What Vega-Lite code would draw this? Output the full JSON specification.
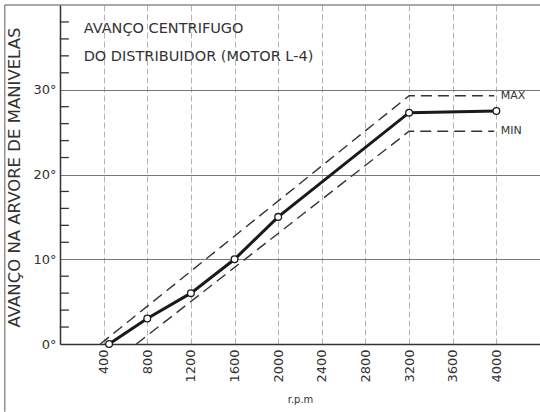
{
  "$schema": "https://vega.github.io/schema/vega-lite/v6.json",
  "width": 480,
  "height": 339,
  "autosize": "none",
  "padding": {"left": 60, "top": 5, "right": 0, "bottom": 68},
  "background": "white",
  "config": {
    "view": {"stroke": null},
    "font": "DejaVu Sans",
    "axis": {"labelFont": "DejaVu Sans", "titleFont": "DejaVu Sans", "labelColor": "#333", "titleColor": "#333", "titleFontWeight": "normal"}
  },
  "datasets": {
    "curve": [
      {"rpm": 450, "deg": 0},
      {"rpm": 800, "deg": 3},
      {"rpm": 1200, "deg": 6},
      {"rpm": 1600, "deg": 10},
      {"rpm": 2000, "deg": 15},
      {"rpm": 3200, "deg": 27.3},
      {"rpm": 4000, "deg": 27.5}
    ],
    "limits": [
      {"series": "MAX", "rpm": 370, "deg": 0},
      {"series": "MAX", "rpm": 3200, "deg": 29.3},
      {"series": "MAX", "rpm": 3980, "deg": 29.3},
      {"series": "MIN", "rpm": 700, "deg": 0},
      {"series": "MIN", "rpm": 3200, "deg": 25.1},
      {"series": "MIN", "rpm": 3980, "deg": 25.1}
    ],
    "ticklist": [
      {"rpm": 40, "deg": 2}, {"rpm": 40, "deg": 4}, {"rpm": 40, "deg": 6}, {"rpm": 40, "deg": 8},
      {"rpm": 40, "deg": 12}, {"rpm": 40, "deg": 14}, {"rpm": 40, "deg": 16}, {"rpm": 40, "deg": 18},
      {"rpm": 40, "deg": 22}, {"rpm": 40, "deg": 24}, {"rpm": 40, "deg": 26}, {"rpm": 40, "deg": 28},
      {"rpm": 40, "deg": 32}, {"rpm": 40, "deg": 34}, {"rpm": 40, "deg": 36}, {"rpm": 40, "deg": 38}
    ],
    "labels": [
      {"rpm": 4040, "deg": 29.3, "label": "MAX"},
      {"rpm": 4040, "deg": 25.1, "label": "MIN"}
    ],
    "titles": [
      {"rpm": 217, "deg": 36.7, "label": "AVANÇO CENTRIFUGO"},
      {"rpm": 217, "deg": 33.4, "label": "DO DISTRIBUIDOR (MOTOR L-4)"}
    ]
  },
  "layer": [
    {
      "data": {"name": "curve"},
      "mark": {"type": "line", "color": "#1a1a1a", "strokeWidth": 3},
      "encoding": {
        "x": {
          "field": "rpm", "type": "quantitative",
          "scale": {"domain": [0, 4400], "nice": false, "zero": false},
          "axis": {
            "values": [400, 800, 1200, 1600, 2000, 2400, 2800, 3200, 3600, 4000],
            "format": "d",
            "labelAngle": -90, "labelFontSize": 13, "labelPadding": 5,
            "ticks": false, "domainColor": "#333", "domainWidth": 1.5,
            "grid": true, "gridColor": "#aaa", "gridWidth": 0.9, "gridDash": [6, 3],
            "title": "r.p.m", "titleFontSize": 10, "titlePadding": 12
          }
        },
        "y": {
          "field": "deg", "type": "quantitative",
          "scale": {"domain": [0, 40], "nice": false},
          "axis": {
            "values": [0, 10, 20, 30],
            "labelExpr": "datum.value + '°'", "labelFontSize": 13, "labelPadding": 4,
            "ticks": false, "domainColor": "#333", "domainWidth": 1.5,
            "grid": true, "gridColor": "#777", "gridWidth": 1,
            "title": "AVANÇO NA ARVORE DE MANIVELAS", "titleFontSize": 16.5,
            "titleY": 172, "titleX": -46, "titleAlign": "center", "titleBaseline": "middle"
          }
        }
      }
    },
    {
      "data": {"name": "curve"},
      "mark": {"type": "point", "filled": true, "fill": "white", "stroke": "#1a1a1a", "strokeWidth": 1.3, "size": 45, "opacity": 1},
      "encoding": {
        "x": {"field": "rpm", "type": "quantitative"},
        "y": {"field": "deg", "type": "quantitative"}
      }
    },
    {
      "data": {"name": "limits"},
      "mark": {"type": "line", "color": "#333", "strokeWidth": 1.4, "strokeDash": [11, 6]},
      "encoding": {
        "x": {"field": "rpm", "type": "quantitative"},
        "y": {"field": "deg", "type": "quantitative"},
        "detail": {"field": "series"}
      }
    },
    {
      "data": {"name": "ticklist"},
      "mark": {"type": "tick", "orient": "horizontal", "color": "#333", "size": 9, "thickness": 1.3, "opacity": 1},
      "encoding": {
        "x": {"field": "rpm", "type": "quantitative"},
        "y": {"field": "deg", "type": "quantitative"}
      }
    },
    {
      "data": {"values": [{}]},
      "mark": {"type": "rule", "color": "#555", "strokeWidth": 1.2},
      "encoding": {
        "x": {"datum": -506},
        "x2": {"datum": 4400},
        "y": {"datum": 40}
      }
    },
    {
      "data": {"values": [{}]},
      "mark": {"type": "rule", "color": "#777", "strokeWidth": 1.2},
      "encoding": {
        "x": {"datum": -506},
        "y": {"datum": 40},
        "y2": {"datum": -8}
      }
    },
    {
      "data": {"name": "labels"},
      "mark": {"type": "text", "align": "left", "baseline": "middle", "fontSize": 11, "color": "#333"},
      "encoding": {
        "x": {"field": "rpm", "type": "quantitative"},
        "y": {"field": "deg", "type": "quantitative"},
        "text": {"field": "label"}
      }
    },
    {
      "data": {"name": "titles"},
      "mark": {"type": "text", "align": "left", "baseline": "alphabetic", "fontSize": 14.5, "color": "#333"},
      "encoding": {
        "x": {"field": "rpm", "type": "quantitative"},
        "y": {"field": "deg", "type": "quantitative"},
        "text": {"field": "label"}
      }
    }
  ]
}
